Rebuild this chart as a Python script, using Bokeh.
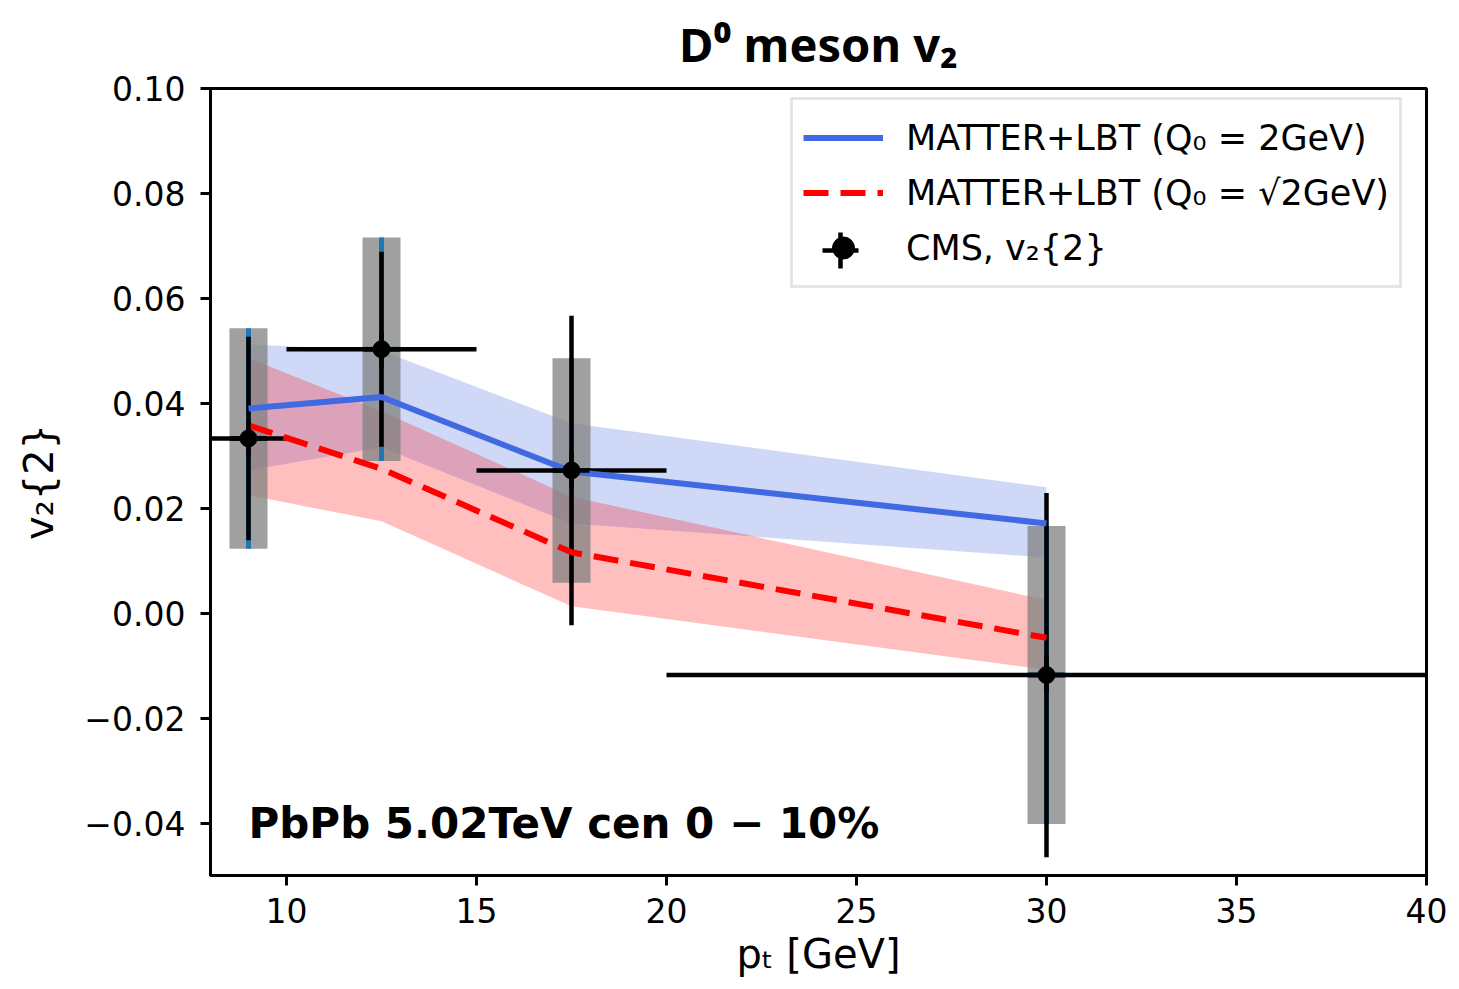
from bokeh.plotting import figure
from bokeh.models import Range1d, FixedTicker, Label, Legend, LegendItem
from bokeh.embed import file_html
from bokeh.resources import INLINE

# ---------------- data ----------------
pt_model = [9.0, 12.5, 17.5, 30.0]
v2_q2 = [0.0390, 0.0412, 0.0270, 0.0171]
v2_q2_lo = [0.0272, 0.0316, 0.0171, 0.0106]
v2_q2_hi = [0.0512, 0.0500, 0.0362, 0.0240]
v2_qs2 = [0.0358, 0.0275, 0.0116, -0.0047]
v2_qs2_lo = [0.0225, 0.0175, 0.0013, -0.0108]
v2_qs2_hi = [0.0486, 0.0385, 0.0222, 0.0025]

cms_pt = [9.0, 12.5, 17.5, 30.0]
cms_pt_lo = [8.0, 10.0, 15.0, 20.0]
cms_pt_hi = [10.0, 15.0, 20.0, 40.0]
cms_v2 = [0.0333, 0.0503, 0.0272, -0.0118]
cms_stat = [0.0194, 0.0186, 0.0295, 0.0347]
cms_sys = [0.0210, 0.0213, 0.0214, 0.0284]
box_halfwidth = 0.5

x_ticks = [10, 15, 20, 25, 30, 35, 40]
y_ticks = [-0.04, -0.02, 0.0, 0.02, 0.04, 0.06, 0.08, 0.10]

# ---------------- figure ----------------
p = figure(width=1459, height=989, output_backend="svg", toolbar_location=None,
           x_range=Range1d(8, 40), y_range=Range1d(-0.05, 0.10),
           title="D\u2070 meson v\u2082",
           min_border_left=210, min_border_right=33, min_border_top=88, min_border_bottom=114)
p.grid.visible = False
p.outline_line_color = "black"
p.outline_line_width = 3
p.background_fill_color = "white"
p.border_fill_color = "white"

p.title.align = "center"
p.title.vertical_align = "top"
p.title.text_font = "Noto Sans"
p.title.text_font_style = "bold"
p.title.text_font_size = "47px"
p.title.text_color = "black"
p.title.standoff = 21

for ax in (p.xaxis[0], p.yaxis[0]):
    ax.axis_line_width = 3
    ax.major_tick_line_width = 3
    ax.major_tick_out = 10
    ax.major_tick_in = 0
    ax.minor_tick_line_color = None
    ax.major_label_text_font = "DejaVu Sans"
    ax.major_label_text_font_size = "33px"
    ax.major_label_text_color = "black"
    ax.axis_label_text_font = "DejaVu Sans"
    ax.axis_label_text_font_style = "normal"
    ax.axis_label_text_color = "black"

p.xaxis.ticker = FixedTicker(ticks=x_ticks)
p.xaxis.major_label_standoff = 12
p.xaxis.axis_label = "p\u209c [GeV]"
p.xaxis.axis_label_text_font_size = "40px"
p.xaxis.axis_label_standoff = 5

p.yaxis.ticker = FixedTicker(ticks=y_ticks)
p.yaxis.major_label_standoff = 15
p.yaxis.major_label_overrides = {t: f"{t:.2f}".replace("-", "\u2212") for t in y_ticks}
p.yaxis.axis_label = "v\u2082{2}"
p.yaxis.axis_label_text_font_size = "40px"
p.yaxis.axis_label_standoff = 19

# ---------------- bands ----------------
p.varea(x=pt_model, y1=v2_q2_lo, y2=v2_q2_hi, fill_color="royalblue", fill_alpha=0.25)
p.varea(x=pt_model, y1=v2_qs2_lo, y2=v2_qs2_hi, fill_color="red", fill_alpha=0.25)

# ---------------- systematic boxes ----------------
box_left = [x - box_halfwidth for x in cms_pt]
box_right = [x + box_halfwidth for x in cms_pt]
sys_lo = [v - s for v, s in zip(cms_v2, cms_sys)]
sys_hi = [v + s for v, s in zip(cms_v2, cms_sys)]
p.quad(left=box_left, right=box_right, bottom=sys_lo, top=sys_hi,
       fill_color="gray", fill_alpha=0.75, line_color=None)

# thin C0 errorbars (box extents)
p.segment(x0=cms_pt, x1=cms_pt, y0=sys_lo, y1=sys_hi, line_color="#1f77b4", line_width=5)
p.segment(x0=box_left, x1=box_right, y0=cms_v2, y1=cms_v2, line_color="#1f77b4", line_width=5)

# ---------------- statistical error bars ----------------
stat_lo = [v - s for v, s in zip(cms_v2, cms_stat)]
stat_hi = [v + s for v, s in zip(cms_v2, cms_stat)]
p.segment(x0=cms_pt, x1=cms_pt, y0=stat_lo, y1=stat_hi, line_color="black", line_width=4.5)
p.segment(x0=cms_pt_lo, x1=cms_pt_hi, y0=cms_v2, y1=cms_v2, line_color="black", line_width=4.5)

# ---------------- model lines ----------------
r_blue = p.line(pt_model, v2_q2, line_color="royalblue", line_width=6)
r_red = p.line(pt_model, v2_qs2, line_color="red", line_width=6, line_dash="25 12")

# ---------------- CMS points ----------------
# cross marker lies under the error bars (same colour); used for the legend symbol
r_cross = p.scatter(cms_pt, cms_v2, marker="cross", size=36, line_color="black", line_width=4.5)
r_pts = p.scatter(cms_pt, cms_v2, marker="circle", size=17, fill_color="black", line_color="black")

# ---------------- legend ----------------
legend = Legend(items=[
    LegendItem(label="MATTER+LBT (Q\u2080 = 2GeV)", renderers=[r_blue]),
    LegendItem(label="MATTER+LBT (Q\u2080 = \u221a2GeV)", renderers=[r_red]),
    LegendItem(label="CMS, v\u2082{2}", renderers=[r_pts]),
], location=(580, 587))
legend.glyph_width = 80
legend.glyph_height = 55
legend.label_height = 55
legend.label_standoff = 23
legend.padding = 10
legend.spacing = 0
legend.border_line_color = "#cccccc"
legend.border_line_width = 3
legend.background_fill_alpha = 0.8
legend.label_text_font = "DejaVu Sans"
legend.label_text_font_size = "35px"
legend.label_text_color = "black"
p.add_layout(legend)

legend_cross = Legend(items=[LegendItem(label=" ", renderers=[r_cross])], location=(585, 580))
legend_cross.glyph_width = 90
legend_cross.glyph_height = 90
legend_cross.label_height = 90
legend_cross.label_width = 1
legend_cross.label_standoff = 0
legend_cross.padding = 0
legend_cross.spacing = 0
legend_cross.border_line_color = None
legend_cross.background_fill_alpha = 0
legend_cross.label_text_font_size = "10px"
p.add_layout(legend_cross)

# ---------------- annotation ----------------
p.add_layout(Label(x=9.0, y=-0.0400, text="PbPb 5.02TeV cen 0 \u2212 10%",
                   text_font="DejaVu Sans", text_font_style="bold",
                   text_font_size="42px", text_color="black", text_baseline="alphabetic"))

open("out.html", "w").write(file_html(p, INLINE))
